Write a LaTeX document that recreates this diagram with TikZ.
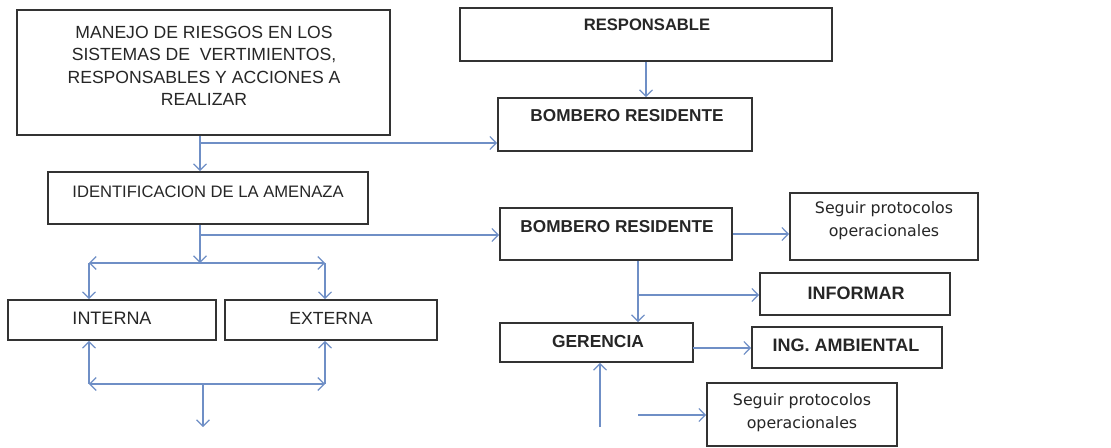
\documentclass[tikz,border=0pt]{standalone}
\usepackage{fontspec}
\setmainfont{Liberation Sans}
\newfontfamily\tahoma{DejaVu Sans}
\usetikzlibrary{arrows.meta, calc, fit}
\definecolor{linkblue}{HTML}{6F8FC6}
\definecolor{boxgray}{HTML}{333333}
\definecolor{inkgray}{HTML}{262626}

\begin{document}
\begin{tikzpicture}[x=0.5pt, y=-0.5pt,
    box/.style={draw=boxgray, line width=0.9pt, inner sep=0pt},
    lbl/.style={text=inkgray, inner sep=0pt, font=\fontsize{8.6}{10}\selectfont\bfseries},
    plain/.style={text=inkgray, inner sep=0pt, font=\fontsize{8.6}{10}\selectfont},
    note/.style={text=inkgray, inner sep=0pt, align=center, font=\tahoma\fontsize{7.9}{11.5}\selectfont},
    link/.style={linkblue, line width=0.6pt},
    >={Straight Barb[length=3.2pt, width=6.5pt]}]

    \useasboundingbox[fill=white] (0,0) rectangle (1111,448);

    % boxes
    \node[box, fit={(17,10) (390,135)}]   (title)    {};
    \node[box, fit={(460,8) (832,61)}]    (resp)     {};
    \node[box, fit={(498,98) (752,151)}]  (bomb1)    {};
    \node[box, fit={(48,172) (368,224)}]  (ident)    {};
    \node[box, fit={(500,208) (732,260)}] (bomb2)    {};
    \node[box, fit={(790,193) (978,260)}] (seg1)     {};
    \node[box, fit={(760,273) (950,315)}] (inform)   {};
    \node[box, fit={(8,300) (216,340)}]   (interna)  {};
    \node[box, fit={(225,300) (437,340)}] (externa)  {};
    \node[box, fit={(500,323) (693,362)}] (gerencia) {};
    \node[box, fit={(752,327) (942,368)}] (ing)      {};
    \node[box, fit={(707,383) (897,446)}] (seg2)     {};

    % texts
    \node[plain, align=center, font=\fontsize{8.8}{11.2}\selectfont] (titletxt) at (204,66)
        {MANEJO DE RIESGOS EN LOS\\SISTEMAS DE\ \ VERTIMIENTOS,\\RESPONSABLES Y ACCIONES A\\REALIZAR};
    \node[lbl, font=\fontsize{8.3}{10}\selectfont\bfseries] (resptxt) at (647,25) {RESPONSABLE};
    \node[lbl] (bomb1txt) at (627,116) {BOMBERO RESIDENTE};
    \node[plain, font=\fontsize{8.3}{10}\selectfont] (identtxt) at (208,192) {IDENTIFICACION DE LA AMENAZA};
    \node[lbl] (bomb2txt) at (617,227) {BOMBERO RESIDENTE};
    \node[note] (seg1txt) at (884,221) {Seguir protocolos\\operacionales};
    \node[lbl, font=\fontsize{9}{10}\selectfont\bfseries] (informtxt) at (856,293) {INFORMAR};
    \node[plain, font=\fontsize{9}{10}\selectfont] (internatxt) at (112,318) {INTERNA};
    \node[plain, font=\fontsize{8.8}{10}\selectfont] (externatxt) at (331,318) {EXTERNA};
    \node[lbl, font=\fontsize{8.7}{10}\selectfont\bfseries] (gerenciatxt) at (598,342) {GERENCIA};
    \node[lbl, font=\fontsize{9}{10}\selectfont\bfseries] (ingtxt) at (846,345) {ING. AMBIENTAL};
    \node[note] (seg2txt) at (802,413) {Seguir protocolos\\operacionales};

    % junctions
    \coordinate (j1)    at (200,143);
    \coordinate (j2)    at (200,235);
    \coordinate (inL)   at (89,263);
    \coordinate (exR)   at (325,263);
    \coordinate (inLb)  at (89,384);
    \coordinate (exRb)  at (325,384);
    \coordinate (mid)   at (203,384);
    \coordinate (endd)  at (203,427);
    \coordinate (j4)    at (638,295);
    \coordinate (g2)    at (693,348);
    \coordinate (gup)   at (600,427);
    \coordinate (sfrom) at (638,415);

    \path[link, ->]
      (title.south -| j1) edge (ident.north -| j1)
      (j1)                edge (j1 -| bomb1.west)
      (resp.south)        edge (resp.south |- bomb1.north)
      (ident.south -| j1) edge (j1 |- inL)
      (j2)                edge (j2 -| bomb2.west)

      (inL)  edge [<->] (exR)
      (inL)  edge (inL |- interna.north)
      (exR)  edge (exR |- externa.north)
      (inLb) edge (inLb |- interna.south)
      (exRb) edge (exRb |- externa.south)
      (inLb) edge [<->] (exRb)
      (mid)  edge (endd)

      (bomb2.east)         edge (bomb2.east -| seg1.west)
      (bomb2.south -| j4)  edge (gerencia.north -| j4)
      (j4)                 edge (j4 -| inform.west)
      (g2)                 edge (g2 -| ing.west)
      (gup)                edge (gup |- gerencia.south)
      (sfrom)              edge (sfrom -| seg2.west);

\end{tikzpicture}
\end{document}
